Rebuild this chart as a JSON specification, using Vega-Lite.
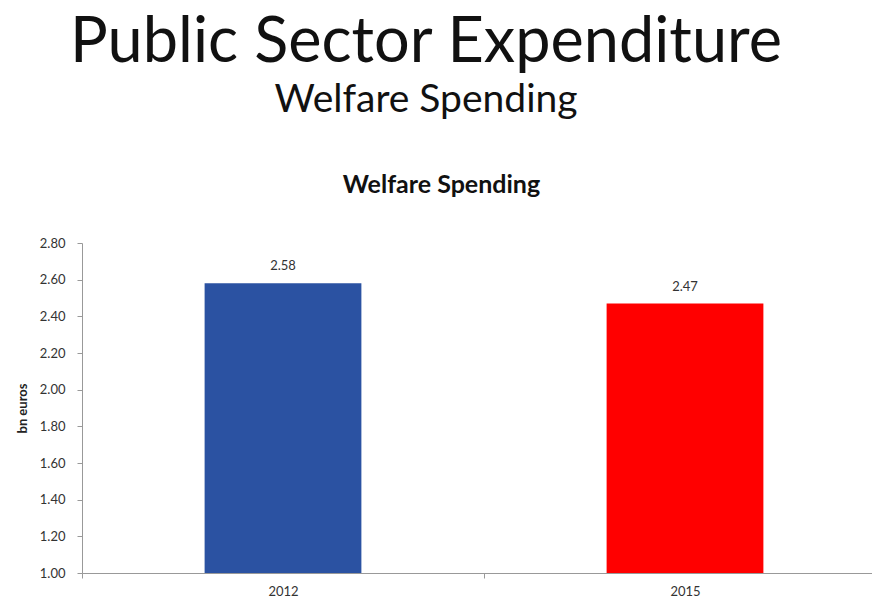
{
  "$schema": "https://vega.github.io/schema/vega-lite/v6.json",
  "autosize": "none",
  "padding": {"left": 82, "top": 243, "right": 0, "bottom": 28},
  "width": 804,
  "height": 330,
  "background": "white",
  "config": {"font": "Lato", "view": {"stroke": null}},
  "title": {
    "text": "Public Sector Expenditure",
    "subtitle": "Welfare Spending",
    "anchor": "middle",
    "frame": "group",
    "dx": -58,
    "fontSize": 63,
    "fontWeight": "normal",
    "color": "#111111",
    "subtitleFontSize": 39,
    "subtitleColor": "#111111",
    "subtitlePadding": 6,
    "offset": 52
  },
  "data": {"values": [
    {"year": "2012", "value": 2.58},
    {"year": "2015", "value": 2.47}
  ]},
  "layer": [
    {
      "mark": {"type": "bar", "width": {"band": 0.39}},
      "encoding": {
        "x": {
          "field": "year", "type": "nominal",
          "scale": {"paddingInner": 0, "paddingOuter": 0},
          "axis": {
            "title": null, "labelAngle": 0, "tickBand": "extent",
            "labelFontSize": 13, "labelColor": "#333333", "labelPadding": 7,
            "domainColor": "#999999", "tickColor": "#999999", "tickSize": 5,
            "grid": false
          }
        },
        "y": {
          "field": "value", "type": "quantitative",
          "scale": {"domain": [1, 2.8], "nice": false, "zero": false},
          "axis": {
            "title": "bn euros", "titleFontSize": 13, "titleFontWeight": "bold",
            "titleColor": "#222222", "titlePadding": 10,
            "values": [1, 1.2, 1.4, 1.6, 1.8, 2, 2.2, 2.4, 2.6, 2.8],
            "labelOverlap": false, "labelFlush": false,
            "format": ".2f", "labelFontSize": 13, "labelColor": "#333333",
            "labelPadding": 12, "tickSize": 5, "tickColor": "#999999",
            "domainColor": "#999999", "grid": false
          }
        },
        "y2": {"datum": 1},
        "color": {
          "field": "year", "type": "nominal",
          "scale": {"domain": ["2012", "2015"], "range": ["#2B52A2", "#FF0000"]},
          "legend": null
        }
      }
    },
    {
      "mark": {"type": "text", "dy": -10, "fontSize": 13, "color": "#333333", "baseline": "bottom"},
      "encoding": {
        "x": {
          "field": "year", "type": "nominal",
          "axis": {
            "orient": "top", "title": "Welfare Spending", "titleFontSize": 25,
            "titleFontWeight": "bold", "titleColor": "#111111", "titlePadding": 46,
            "titleX": 359,
            "labels": false, "ticks": false, "domain": false, "grid": false
          }
        },
        "y": {
          "field": "value", "type": "quantitative",
          "axis": {
            "title": "bn euros", "titleFontSize": 13, "titleFontWeight": "bold",
            "titleColor": "#222222", "titlePadding": 10,
            "values": [1, 1.2, 1.4, 1.6, 1.8, 2, 2.2, 2.4, 2.6, 2.8],
            "labelOverlap": false, "labelFlush": false,
            "format": ".2f", "labelFontSize": 13, "labelColor": "#333333",
            "labelPadding": 12, "tickSize": 5, "tickColor": "#999999",
            "domainColor": "#999999", "grid": false
          }
        },
        "text": {"field": "value", "type": "quantitative", "format": ".2f"}
      }
    }
  ],
  "resolve": {"axis": {"x": "independent", "y": "shared"}}
}
